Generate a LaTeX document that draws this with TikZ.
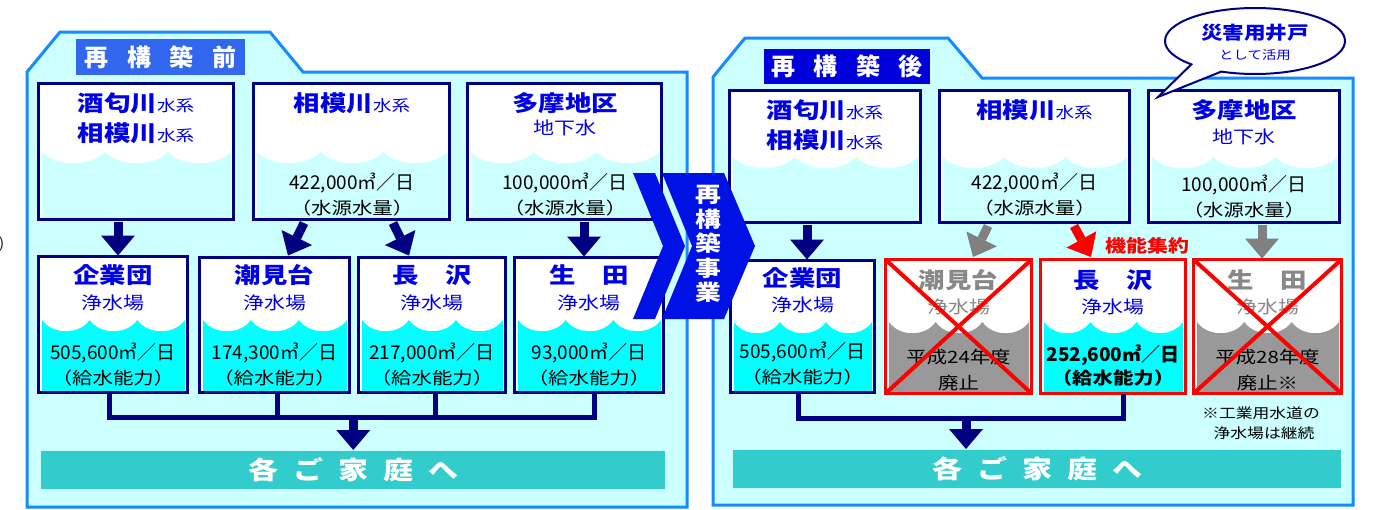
\documentclass[tikz,border=0pt]{standalone}
\usepackage{fontspec}
\setmainfont{Noto Sans CJK JP}
\newfontfamily\jpw[FakeStretch=1.2]{Noto Sans CJK JP}
\usetikzlibrary{arrows.meta,calc}
\definecolor{panelbg}{RGB}{204,255,255}
\definecolor{panelline}{RGB}{20,140,255}
\definecolor{navy}{RGB}{0,0,128}
\definecolor{tblue}{RGB}{0,0,230}
\definecolor{aqua}{RGB}{0,255,255}
\definecolor{titleA}{RGB}{51,102,238}
\definecolor{titleB}{RGB}{0,0,220}
\definecolor{barc}{RGB}{51,204,204}
\definecolor{grayfill}{RGB}{153,153,153}
\definecolor{graytxt}{RGB}{136,136,136}
\definecolor{grayarr}{RGB}{128,128,128}
\definecolor{chev}{RGB}{0,17,230}
\newcommand\wavefill[6]{%
 \fill[white] (#1,#2) rectangle (#3,#4);
 \pgfmathsetmacro\wfa{#1+5}\pgfmathsetmacro\wfb{#3-4}%
 \pgfmathsetmacro\wfw{(\wfb-\wfa)/3}%
 \pgfmathsetmacro\wfd{#5+15}%
 \fill[#6] (\wfa,#5) \foreach \i in {0,1,2}{ .. controls ({\wfa+\i*\wfw+0.22*\wfw},\wfd) and ({\wfa+\i*\wfw+0.78*\wfw},\wfd) .. ({\wfa+(\i+1)*\wfw},#5)} -- (\wfb,#4-3) -- (\wfa,#4-3) -- cycle;
}
\newcommand\mkbox[8]{%
 \wavefill{#2}{#3}{#4}{#5}{#6}{#7}%
 \pgfmathsetmacro\mkw{#4-#2-3}\pgfmathsetmacro\mkh{#5-#3-3}%
 \node[#8, minimum width=\mkw pt, minimum height=\mkh pt, anchor=north west] (#1) at ({#2+1.5},{#3+1.5}) {};%
}
\newcommand\gapA{\hspace{18.5pt}}
\newcommand\gapB{\hspace{15pt}}
\newcommand\smk[1]{{\mdseries\fontsize{15.5}{15.5}\selectfont #1}}
\begin{document}
\begin{tikzpicture}[x=1pt,y=-1pt,
  frame/.style={draw=navy, line width=3pt, inner sep=0pt, outer sep=0pt},
  rframe/.style={draw=red, line width=3.5pt, inner sep=0pt, outer sep=0pt},
  txt/.style={inner sep=0pt, outer sep=0pt},
  bigname/.style={txt, text=tblue, font=\jpw\bfseries\fontsize{22}{22}\selectfont},
  grayname/.style={bigname, text=graytxt},
  midtxt/.style={txt, text=tblue, font=\jpw\fontsize{17.5}{17.5}\selectfont},
  graymid/.style={midtxt, text=graytxt},
  numtxt/.style={txt, text=black, font=\fontsize{19}{19}\selectfont},
  partxt/.style={txt, text=black, font=\jpw\fontsize{17}{17}\selectfont},
  navyarr/.style={color=navy, line width=9pt, -{Triangle[width=34pt,length=20pt,line width=0pt]}},
  grayarrow/.style={navyarr, color=grayarr},
  redarrow/.style={navyarr, color=red},
  bus/.style={draw=navy, line width=5pt},
  redx/.style={draw=red, line width=4pt},
  homebar/.style={fill=barc, inner sep=0pt, outer sep=0pt, text=white, font=\jpw\bfseries\fontsize{25}{25}\selectfont},
  titlebox/.style={inner sep=0pt, outer sep=0pt, text=white, font=\bfseries\fontsize{24}{24}\selectfont},
  panel/.style={fill=panelbg, draw=panelline, line width=3pt}
]
\useasboundingbox (0,0) rectangle (1373,509);
% panels
\path[panel] (27,72) -- (60,32) -- (270,32) -- (303,72) -- (687,72) -- (687,507) -- (27,507) -- cycle;
\path[panel] (713,77) -- (745,38) -- (948,38) -- (982,78) -- (1353,78) -- (1353,505) -- (713,505) -- cycle;
% titles
\node[titlebox, fill=titleA, minimum width=169pt, minimum height=36pt] (ttlA) at (160.5,57) {再\gapA 構\gapA 築\gapA 前};
\node[titlebox, fill=titleB, minimum width=166pt, minimum height=35pt] (ttlB) at (847,66.5) {再\gapA 構\gapA 築\gapA 後};
% left boxes
\mkbox{s1}{37}{82}{235}{221}{152}{panelbg}{frame}
\mkbox{s2}{252}{82}{451}{221}{152}{panelbg}{frame}
\mkbox{s3}{466}{82}{663}{221}{152}{panelbg}{frame}
\mkbox{p1}{37}{255}{189}{394}{320}{aqua}{frame}
\mkbox{p2}{198}{256}{351}{394}{320}{aqua}{frame}
\mkbox{p3}{357}{256}{507}{394}{320}{aqua}{frame}
\mkbox{p4}{513}{256}{665}{394}{320}{aqua}{frame}
% right boxes
\mkbox{r1}{728}{89}{922}{224}{157}{panelbg}{frame}
\mkbox{r2}{938}{89}{1131}{224}{157}{panelbg}{frame}
\mkbox{r3}{1147}{89}{1341}{224}{157}{panelbg}{frame}
\mkbox{q1}{729}{259}{876}{394}{322}{aqua}{frame}
\mkbox{q2}{884}{258}{1033}{395}{322}{grayfill}{rframe}
\mkbox{q3}{1039}{258}{1187}{395}{322}{aqua}{rframe}
\mkbox{q4}{1192}{258}{1343}{395}{322}{grayfill}{rframe}
% left texts
\node[bigname] (a1) at (136,103) {酒匂川\smk{水系}};
\node[bigname] (a2) at (136,133) {相模川\smk{水系}};
\node[bigname] (a3) at (352,103) {相模川\smk{水系}};
\node[numtxt] (a4) at (352,183) {422,000㎥／日};
\node[partxt] (a5) at (352,208) {（水源水量）};
\node[bigname] (a6) at (565,103) {多摩地区};
\node[midtxt] (a7) at (565,128) {地下水};
\node[numtxt] (a8) at (565,183) {100,000㎥／日};
\node[partxt] (a9) at (565,208) {（水源水量）};
\node[bigname] (b1) at (113,275) {企業団};
\node[midtxt] (b2) at (113,303) {浄水場};
\node[numtxt] (b3) at (113,353) {505,600㎥／日};
\node[partxt] (b4) at (113,378) {（給水能力）};
\node[bigname] (b5) at (274.5,275) {潮見台};
\node[midtxt] (b6) at (274.5,303) {浄水場};
\node[numtxt] (b7) at (274.5,353) {174,300㎥／日};
\node[partxt] (b8) at (274.5,378) {（給水能力）};
\node[bigname] (b9) at (432,275) {長　沢};
\node[midtxt] (b10) at (432,303) {浄水場};
\node[numtxt] (b11) at (432,353) {217,000㎥／日};
\node[partxt] (b12) at (432,378) {（給水能力）};
\node[bigname] (b13) at (589,275) {生　田};
\node[midtxt] (b14) at (589,303) {浄水場};
\node[numtxt] (b15) at (589,353) {93,000㎥／日};
\node[partxt] (b16) at (589,378) {（給水能力）};
% right texts
\node[bigname] (c1) at (825,110) {酒匂川\smk{水系}};
\node[bigname] (c2) at (825,140) {相模川\smk{水系}};
\node[bigname] (c3) at (1034.5,110) {相模川\smk{水系}};
\node[numtxt] (c4) at (1034.5,183) {422,000㎥／日};
\node[partxt] (c5) at (1034.5,208) {（水源水量）};
\node[bigname] (c6) at (1244,110) {多摩地区};
\node[midtxt] (c7) at (1244,137) {地下水};
\node[numtxt] (c8) at (1244,185) {100,000㎥／日};
\node[partxt] (c9) at (1244,210) {（水源水量）};
\node[bigname] (d1) at (802.5,278) {企業団};
\node[midtxt] (d2) at (802.5,305) {浄水場};
\node[numtxt] (d3) at (802.5,352) {505,600㎥／日};
\node[partxt] (d4) at (802.5,377) {（給水能力）};
\node[grayname] (d5) at (958.5,280) {潮見台};
\node[graymid] (d6) at (958.5,307) {浄水場};
\node[partxt] (d7) at (958.5,357) {平成24年度};
\node[partxt] (d8) at (958.5,383) {廃止};
\node[bigname] (d9) at (1113,280) {長　沢};
\node[midtxt] (d10) at (1113,307) {浄水場};
\node[numtxt, font=\bfseries\fontsize{19}{19}\selectfont] (d11) at (1113,355) {252,600㎥／日};
\node[partxt, font=\jpw\bfseries\fontsize{17}{17}\selectfont] (d12) at (1113,378) {（給水能力）};
\node[grayname] (d13) at (1267.5,280) {生　田};
\node[graymid] (d14) at (1267.5,307) {浄水場};
\node[partxt] (d15) at (1267.5,357) {平成28年度};
\node[partxt] (d16) at (1267.5,383) {廃止※};
\node[txt, font=\jpw\fontsize{14}{14}\selectfont] (n1) at (1261,413) {※工業用水道の};
\node[txt, font=\jpw\fontsize{14}{14}\selectfont] (n2) at (1264,433) {浄水場は継続};
\node[txt, text=red, font=\jpw\bfseries\fontsize{17.5}{17.5}\selectfont] (kn) at (1147,246) {機能集約};
% red crosses
\draw[redx] (q2.north west) -- (q2.south east) (q2.north east) -- (q2.south west);
\draw[redx] (q4.north west) -- (q4.south east) (q4.north east) -- (q4.south west);
% arrows from sources
\draw[navyarr] ($(s1.south)+(-18,2)$) -- ($(p1.north)+(5,-1)$);
\draw[navyarr] ($(s2.south)+(-47.5,3.5)$) -- ($(p2.north)+(13.5,-2)$);
\draw[navyarr] ($(s2.south)+(41.5,3.5)$) -- ($(p3.north)+(-23,-2)$);
\draw[navyarr] ($(s3.south)+(19.5,2)$) -- ($(p4.north)+(-5,-1)$);
\draw[navyarr] ($(r1.south)+(-18,2)$) -- ($(q1.north)+(4.5,-1)$);
\draw[grayarrow] ($(r2.south)+(-46.5,3.5)$) -- ($(q2.north)+(14.5,-2.5)$);
\draw[redarrow] ($(r2.south)+(39.5,3.5)$) -- ($(q3.north)+(-22,-2.5)$);
\draw[grayarrow] ($(r3.south)+(18,2)$) -- ($(q4.north)+(-5.5,-1)$);
% home bars
\node[homebar, minimum width=624pt, minimum height=38pt, anchor=north west] (home1) at (41,451) {各\gapB ご\gapB 家\gapB 庭\gapB へ};
\node[homebar, minimum width=608pt, minimum height=38pt, anchor=north west] (home2) at (733,450) {各\gapB ご\gapB 家\gapB 庭\gapB へ};
% buses
\draw[bus] ($(p1.south)+(-4,0)$) |- ($(p4.south)+(5,25)$) -- ($(p4.south)+(5,0)$);
\draw[bus] ($(p2.south)+(2.5,0)$) -- ++(0,25);
\draw[bus] ($(p3.south)+(3,0)$) -- ++(0,25);
\coordinate (bl) at ($(p2.south)!0.5!(p3.south)+(0,25)$);
\draw[navyarr] (bl) -- ($(bl |- home1.north)+(0,-1)$);
\draw[bus] ($(q1.south)+(-4.5,0)$) |- ($(q3.south)+(10,24.5)$) -- ($(q3.south)+(10,0)$);
\coordinate (br) at (966,418);
\draw[navyarr] (br) -- ($(br |- home2.north)+(0,-1)$);
% chevron
\fill[chev] (633,173) -- (655,173) -- (685,246) -- (655,319) -- (633,319) -- (663,246) -- cycle;
\fill[chev] (662,173) -- (724,173) -- (755,246) -- (724,319) -- (662,319) -- (692,246) -- cycle;
\node[txt, align=center, text=white, font=\jpw\bfseries\fontsize{21.5}{24.6}\selectfont] (chv) at (708,244) {再\\構\\築\\事\\業};
% bubble
\coordinate (btip) at (1158,97);
\draw[fill=white, draw=navy, line width=2pt] (1255,41) ++(135:90 and 33) arc[start angle=135, end angle=472, x radius=90, y radius=33] -- (btip) -- cycle;
\node[txt, text=tblue, font=\jpw\bfseries\fontsize{18}{18}\selectfont] (bb1) at (1255,33) {災害用井戸};
\node[txt, text=tblue, font=\jpw\fontsize{12}{12}\selectfont] (bb2) at (1255,55) {として活用};
% stray mark at left edge
\node[txt, anchor=east, font=\fontsize{14}{14}\selectfont] (stray) at (4,244) {)};
\end{tikzpicture}
\end{document}
